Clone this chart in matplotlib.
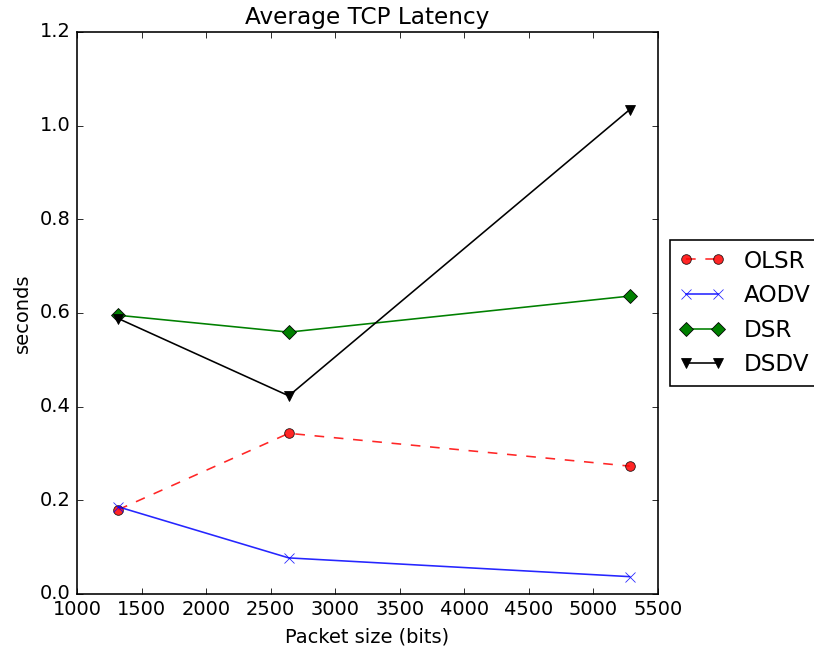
import matplotlib
matplotlib.use("Agg")
import matplotlib.pyplot as plt

plt.style.use("classic")

packet_sizes = [1320, 2640, 5280]
olsr = [0.180, 0.343, 0.273]
aodv = [0.186, 0.077, 0.037]
dsr = [0.595, 0.559, 0.636]
dsdv = [0.588, 0.423, 1.034]

DPI = 116
fig = plt.figure(figsize=(814 / DPI, 651 / DPI), dpi=DPI, facecolor="white")
ax = fig.add_axes([0.0946, 0.0876, 0.7138, 0.8634])

ax.plot(packet_sizes, olsr, "ro--", label="OLSR", alpha=0.85)
ax.plot(packet_sizes, aodv, "bx-", label="AODV", alpha=0.85)
ax.plot(packet_sizes, dsr, "gD-", label="DSR")
ax.plot(packet_sizes, dsdv, "kv-", label="DSDV")

ax.set_xlim(1000, 5500)
ax.set_ylim(0, 1.2)
ax.set_title("Average TCP Latency")
ax.set_xlabel("Packet size (bits)")
ax.set_ylabel("seconds")
ax.legend(loc="center left", bbox_to_anchor=(1.0, 0.5))

plt.savefig("out.png", dpi=DPI, facecolor="white")
plt.close()
